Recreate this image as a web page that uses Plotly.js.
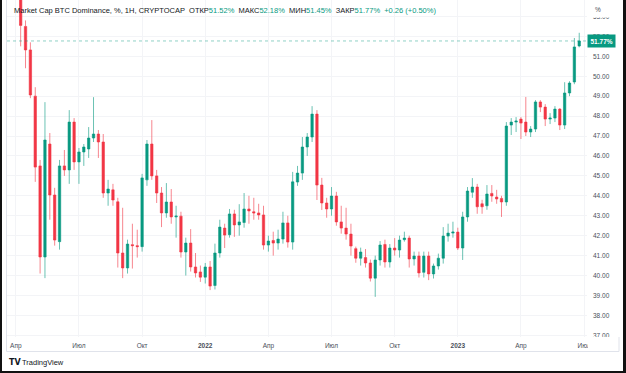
<!DOCTYPE html>
<html>
<head>
<meta charset="utf-8">
<script src="https://cdn.plot.ly/plotly-3.0.1.min.js"></script>
<style>
html,body{margin:0;padding:0;background:#fff;}
#wrap{position:relative;width:626px;height:373px;}
#chart{width:626px;height:373px;}
#frame{position:absolute;left:0;top:0;width:626px;height:373px;box-sizing:border-box;border-left:2px solid #111;border-right:3px solid #111;border-bottom:2px solid #111;pointer-events:none;}
</style>
</head>
<body>
<div id="wrap"><div id="chart"></div><div id="frame"></div></div>
<script>
// Weekly bars, CRYPTOCAP:BTC.D
const dates = [
"2021-04-12","2021-04-19","2021-04-26","2021-05-03","2021-05-10","2021-05-17","2021-05-24","2021-05-31",
"2021-06-07","2021-06-14","2021-06-21","2021-06-28","2021-07-05","2021-07-12","2021-07-19","2021-07-26",
"2021-08-02","2021-08-09","2021-08-16","2021-08-23","2021-08-30","2021-09-06","2021-09-13","2021-09-20",
"2021-09-27","2021-10-04","2021-10-11","2021-10-18","2021-10-25","2021-11-01","2021-11-08","2021-11-15",
"2021-11-22","2021-11-29","2021-12-06","2021-12-13","2021-12-20","2021-12-27","2022-01-03","2022-01-10",
"2022-01-17","2022-01-24","2022-01-31","2022-02-07","2022-02-14","2022-02-21","2022-02-28","2022-03-07",
"2022-03-14","2022-03-21","2022-03-28","2022-04-04","2022-04-11","2022-04-18","2022-04-25","2022-05-02",
"2022-05-09","2022-05-16","2022-05-23","2022-05-30","2022-06-06","2022-06-13","2022-06-20","2022-06-27",
"2022-07-04","2022-07-11","2022-07-18","2022-07-25","2022-08-01","2022-08-08","2022-08-15","2022-08-22",
"2022-08-29","2022-09-05","2022-09-12","2022-09-19","2022-09-26","2022-10-03","2022-10-10","2022-10-17",
"2022-10-24","2022-10-31","2022-11-07","2022-11-14","2022-11-21","2022-11-28","2022-12-05","2022-12-12",
"2022-12-19","2022-12-26","2023-01-02","2023-01-09","2023-01-16","2023-01-23","2023-01-30","2023-02-06",
"2023-02-13","2023-02-20","2023-02-27","2023-03-06","2023-03-13","2023-03-20","2023-03-27","2023-04-03",
"2023-04-10","2023-04-17","2023-04-24","2023-05-01","2023-05-08","2023-05-15","2023-05-22","2023-05-29",
"2023-06-05","2023-06-12","2023-06-19","2023-06-26"];

const openV = [
54.8,52.5,51.32,49.0,45.5,40.93,46.6,44.04,41.7,45.5,45.3,47.7,45.7,46.2,46.35,46.9,
47.1,46.7,44.14,44.3,43.7,41.13,40.38,41.55,41.5,41.45,44.8,46.6,45.0,44.14,43.14,43.69,
42.94,42.98,41.18,41.63,40.43,40.18,39.92,40.43,39.5,41.13,42.38,42.05,43.09,42.54,42.66,43.34,
43.2,43.14,43.04,41.53,41.76,41.63,41.83,42.64,41.68,44.69,45.14,46.45,46.95,48.1,44.54,43.64,
43.34,43.99,42.69,42.38,42.08,41.35,40.87,40.9,40.63,39.87,40.78,41.56,40.68,41.38,41.28,41.8,
41.88,40.83,40.98,40.16,40.98,40.08,40.48,40.87,41.98,42.13,42.18,41.38,42.94,44.18,44.44,43.6,
43.5,44.12,43.94,43.87,43.69,47.55,47.7,47.85,47.7,47.2,47.35,48.71,48.45,47.85,47.9,48.35,
47.55,49.16,49.71,51.52];

const highV = [
55.3,52.8,51.7,49.45,45.8,48.7,47.15,44.4,45.8,46.3,48.3,47.9,46.4,46.6,47.45,48.95,
47.3,47.1,44.8,44.6,43.9,43.4,41.8,42.6,42.3,45.1,46.8,47.8,45.3,44.44,44.64,44.34,
43.5,43.2,41.9,42.33,41.13,40.5,40.63,40.73,41.6,42.8,42.6,43.34,43.3,43.58,44.14,44.0,
43.9,43.6,43.5,42.0,42.2,42.3,43.2,43.0,45.2,45.5,46.95,47.15,48.5,48.3,44.9,43.9,
44.44,44.2,43.5,43.4,42.6,41.45,41.4,41.33,40.8,41.0,41.73,41.8,41.58,41.88,42.0,42.2,
42.0,41.2,41.2,41.2,41.2,40.6,41.1,42.43,42.6,42.7,42.4,43.2,44.44,44.89,44.6,43.8,
44.54,44.54,44.3,44.0,47.7,47.9,47.95,47.95,48.96,47.5,48.8,48.8,48.6,48.15,48.5,48.4,
49.7,49.75,51.92,52.18];

const lowV = [
51.5,50.4,48.9,44.7,40.1,39.87,42.8,41.5,41.3,45.0,44.6,45.3,44.6,45.5,45.9,46.7,
45.9,43.9,43.5,43.5,40.4,39.87,40.1,40.35,40.9,41.2,44.5,44.8,43.64,42.43,42.9,42.6,
41.9,40.9,40.0,40.2,39.9,39.68,39.6,39.27,39.3,40.9,41.38,41.9,41.94,42.0,42.4,42.6,
42.8,42.8,41.3,41.2,41.0,41.3,41.6,41.4,41.3,44.5,44.8,46.0,46.7,43.79,43.29,42.9,
43.0,42.5,42.1,41.8,41.0,40.64,40.5,40.4,39.7,38.93,40.5,40.4,40.4,41.0,40.9,41.7,
40.4,40.5,39.9,39.9,39.77,39.85,40.3,40.6,41.7,41.9,41.28,40.78,42.7,43.9,43.1,43.1,
43.3,43.7,43.6,42.94,43.5,47.05,47.2,46.85,47.0,46.95,47.2,48.2,47.5,47.6,47.7,47.3,
47.35,49.0,49.6,51.45];

const closeV = [
52.55,51.32,49.06,45.44,40.93,46.8,44.04,41.78,45.5,45.3,47.7,45.7,46.2,46.45,46.9,47.1,
46.7,44.14,44.34,43.79,41.13,40.38,41.58,41.5,41.45,44.9,46.6,45.0,44.14,43.14,43.69,42.94,
42.98,41.18,41.63,40.43,40.13,39.92,40.43,39.47,41.13,42.43,42.03,43.09,42.54,42.69,43.34,43.24,
43.14,43.04,41.53,41.73,41.63,41.83,42.64,41.68,44.7,45.14,46.45,46.95,48.1,44.54,43.64,43.34,
43.99,42.69,42.38,42.08,41.48,40.87,41.18,40.63,39.87,40.78,41.53,40.68,41.38,41.28,41.78,41.88,
40.83,40.98,40.13,40.98,40.08,40.48,40.87,41.98,42.13,42.18,41.38,42.94,44.24,44.44,43.45,43.45,
44.09,43.99,43.84,43.69,47.5,47.7,47.75,47.65,47.2,47.35,48.71,48.45,47.85,47.9,48.35,47.55,
49.16,49.66,51.47,51.77];

const tickDates = ["2021-04-05","2021-07-05","2021-10-04","2022-01-03","2022-04-04","2022-07-04","2022-10-03","2023-01-02","2023-04-03","2023-07-03"];
const tickLabels = ["Апр","Июл","Окт","<b>2022</b>","Апр","Июл","Окт","<b>2023</b>","Апр","Июл"];
const priceTicks = [37,38,39,40,41,42,43,44,45,46,47,48,49,50,51,52,53];

const headerText = 'Market Cap BTC Dominance, %, 1H, CRYPTOCAP  ОТКР<span style="color:#089981">51.52%</span>  МАКС<span style="color:#089981">52.18%</span>  МИН<span style="color:#089981">51.45%</span>  ЗАКР<span style="color:#089981">51.77%</span>  <span style="color:#089981">+0.26 (+0.50%)</span>';

const GREEN = '#089981', RED = '#f23645';
const FONT = '"Liberation Sans", Arial, sans-serif';
const last = closeV.length - 1;

const trace = {
  type: 'candlestick',
  x: dates, open: openV, high: highV, low: lowV, close: closeV,
  increasing: {line: {color: 'rgba(8,153,129,0.6)', width: 1}, fillcolor: GREEN},
  decreasing: {line: {color: 'rgba(242,54,69,0.6)', width: 1}, fillcolor: RED},
  whiskerwidth: 0,
  hoverinfo: 'skip',
  showlegend: false
};

// pane pixel helpers for decorations (paper coords)
const PW = 580, PH = 337, ML = 7;
const px = v => (v - ML) / PW;
const py = v => (PH - v) / PH;

const layout = {
  width: 626, height: 373,
  margin: {l: 7, r: 39, t: 0, b: 36, pad: 0},
  paper_bgcolor: '#ffffff', plot_bgcolor: '#ffffff',
  font: {family: FONT, size: 7, color: '#131722'},
  boxgap: 0.3,
  showlegend: false,
  xaxis: {
    type: 'date',
    range: ['2021-03-23 07:00', '2023-07-07 05:00'],
    rangeslider: {visible: false},
    tickmode: 'array', tickvals: tickDates, ticktext: tickLabels,
    tickfont: {family: FONT, size: 6.5, color: '#4a4f5a'},
    ticks: '', showline: false, zeroline: false,
    showgrid: true, gridcolor: '#f3f4f7', gridwidth: 1,
    ticklabelstandoff: 3,
    fixedrange: true
  },
  yaxis: {
    side: 'right',
    range: [36.916, 53.825],
    tickmode: 'array', tickvals: priceTicks,
    tickformat: '.2f', ticksuffix: '%',
    tickfont: {family: FONT, size: 6.5, color: '#4a4f5a'},
    ticks: '', showline: false, zeroline: false,
    showgrid: true, gridcolor: '#f3f4f7', gridwidth: 1,
    ticklabelstandoff: 5,
    fixedrange: true
  },
  shapes: [
    // current price line
    {type: 'line', xref: 'paper', yref: 'y', x0: 0, x1: 1, y0: closeV[last], y1: closeV[last],
     line: {color: 'rgba(8,153,129,0.45)', width: 1, dash: 'dot'}},
    // price-scale header box (covers most of the top label)
    {type: 'rect', xref: 'paper', yref: 'paper', x0: 1, x1: px(622), y0: py(17.5), y1: py(0),
     fillcolor: '#ffffff', line: {width: 0}, layer: 'above'},
    // time-axis clip at price-scale boundary
    {type: 'rect', xref: 'paper', yref: 'paper', x0: px(588), x1: px(622), y0: py(351), y1: 0,
     fillcolor: '#ffffff', line: {width: 0}, layer: 'above'},
    // widget borders
    {type: 'line', xref: 'paper', yref: 'paper', x0: px(6.5), x1: px(619), y0: py(351.5), y1: py(351.5),
     line: {color: '#e0e3eb', width: 1}, layer: 'above'},
    {type: 'line', xref: 'paper', yref: 'paper', x0: px(6.5), x1: px(6.5), y0: py(351.5), y1: py(0),
     line: {color: '#e0e3eb', width: 1}, layer: 'above'},
    {type: 'line', xref: 'paper', yref: 'paper', x0: px(619), x1: px(619), y0: py(351.5), y1: py(337),
     line: {color: '#e0e3eb', width: 1}, layer: 'above'}
  ],
  annotations: [
    {xref: 'paper', yref: 'paper', x: px(12), y: py(10), xanchor: 'left', yanchor: 'middle',
     text: headerText, showarrow: false, font: {family: FONT, size: 7.5, color: '#131722'}},
    {xref: 'paper', yref: 'y', x: 1, y: closeV[last], xanchor: 'left', yanchor: 'middle',
     text: '<b>' + closeV[last].toFixed(2) + '%</b>', showarrow: false, bgcolor: GREEN,
     borderpad: 2.5, font: {family: FONT, size: 6.5, color: '#ffffff'}},
    {xref: 'paper', yref: 'paper', x: px(593), y: py(9), xanchor: 'left', yanchor: 'middle',
     text: '%', showarrow: false, font: {family: FONT, size: 6.5, color: '#4a4f5a'}},
    {xref: 'paper', yref: 'paper', x: px(7), y: py(362), xanchor: 'left', yanchor: 'middle',
     text: '<b>TV</b>', showarrow: false, font: {family: '"DejaVu Sans", sans-serif', size: 8, color: '#131722'}},
    {xref: 'paper', yref: 'paper', x: px(20), y: py(362), xanchor: 'left', yanchor: 'middle',
     text: 'TradingView', showarrow: false, font: {family: FONT, size: 7.5, color: '#131722'}}
  ]
};

Plotly.newPlot('chart', [trace], layout, {staticPlot: true, displayModeBar: false});
</script>
</body>
</html>
